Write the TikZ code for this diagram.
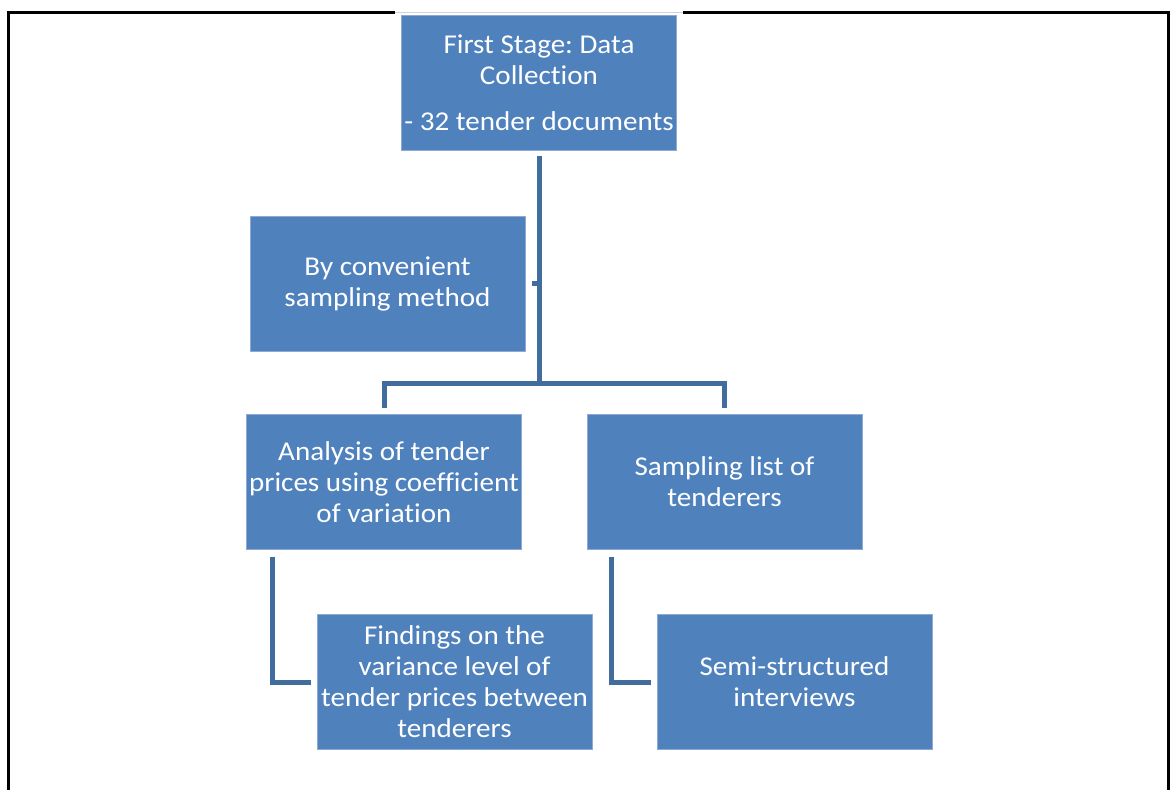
\documentclass[tikz,border=0pt]{standalone}
\usepackage{fontspec}
\setmainfont{Carlito}[FakeStretch=1.07, Ligatures=NoCommon]
\frenchspacing
\definecolor{boxblue}{HTML}{4F81BD}
\definecolor{boxedge}{HTML}{8EA9D6}
\definecolor{linkblue}{HTML}{416C9E}
\begin{document}
\begin{tikzpicture}[x=0.75pt,y=-0.75pt,
  stagebox/.style={draw=boxedge, line width=0.6pt, fill=boxblue, text=white,
    minimum width=206.25pt, minimum height=101.25pt, inner sep=0pt, align=center,
    font=\fontsize{20.4}{23.25}\selectfont},
  link/.style={draw=linkblue, line width=3.75pt},
  frameline/.style={draw=black, line width=2.25pt}]
  \useasboundingbox (0,0) rectangle (1173,790);

  % outer frame, open at the bottom
  \draw[frameline] (8,790) -- (8,12) -- (1168,12) -- (1168,790);
  \fill[white] (395,8) rectangle (683,16);
  \draw[gray!35, line width=0.4pt] (395,12) -- (683,12);

  % boxes
  \node[stagebox] (top) at (539,82.5) {First Stage: Data\\Collection\\[11.25pt]- 32 tender documents};
  \node[stagebox] (conv) at (387.5,283.5) {By convenient\\sampling method};
  \node[stagebox] (anal) at (384,482) {Analysis of tender\\prices using coefficient\\of variation};
  \node[stagebox] (samp) at (724.5,482) {Sampling list of\\tenderers};
  \node[stagebox] (find) at (454.5,682) {Findings on the\\variance level of\\tender prices between\\tenderers};
  \node[stagebox] (semi) at (794.5,682) {Semi-structured\\interviews};

  % tree connectors
  \coordinate (split) at (539,383);
  \draw[link, shorten <=4pt] (top.south) -- ([yshift=-1.4pt]split);
  \draw[link, shorten >=5pt] (top.south |- conv.east) -- (conv.east);
  \draw[link, shorten >=4.5pt] (split) -| (anal.north);
  \draw[link, shorten >=4.5pt] (split) -| (samp.north);

  % elbow connectors to the findings
  \draw[link, shorten <=5pt, shorten >=4.5pt] ([xshift=19.5pt]anal.south west) |- (find.west);
  \draw[link, shorten <=5pt, shorten >=4.5pt] ([xshift=19pt]samp.south west) |- (semi.west);
\end{tikzpicture}
\end{document}
